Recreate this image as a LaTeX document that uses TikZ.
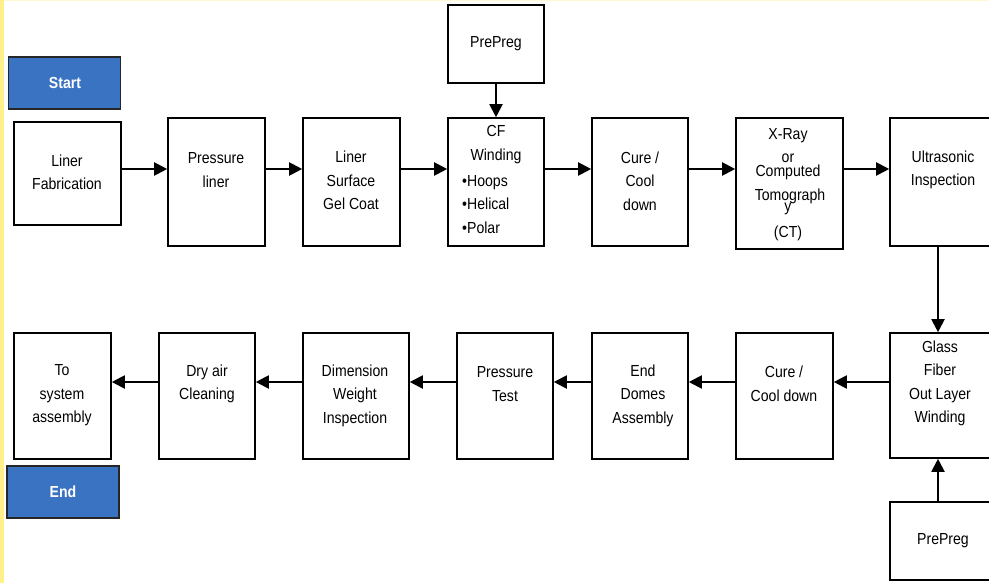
\documentclass[tikz,border=0pt]{standalone}
\usepackage{fontspec}
\setmainfont{Liberation Sans}[FakeStretch=0.88]
\usetikzlibrary{arrows.meta}
\definecolor{stblue}{HTML}{3B73C3}
\definecolor{ystrip}{HTML}{FFF08A}
\definecolor{ytop}{HTML}{FFF8D0}
\begin{document}
\begin{tikzpicture}[x=1pt,y=-1pt,
  box/.style={draw=black,line width=1.6pt,fill=white,rectangle,inner sep=0pt},
  term/.style={draw=black!85,line width=1.8pt,fill=stblue,rectangle,inner sep=0pt,
     minimum width=112pt,minimum height=52pt},
  txt/.style={align=center,inner sep=0pt,font=\fontsize{16}{23.5}\selectfont},
  ttxt/.style={inner sep=0pt,text=white,font=\fontsize{16}{18}\selectfont\bfseries},
  arr/.style={line width=2pt,-{Triangle[length=13pt,width=13pt]}}]
\useasboundingbox (0,0) rectangle (989,583);
\fill[white] (0,0) rectangle (989,583);
\fill[ytop] (0,0) rectangle (989,1.5);
\fill[ystrip] (0,0) rectangle (4,583);
% boxes
\node[term] (start) at (64.5,83) {};
\node[box,minimum width=107pt,minimum height=103pt] (lf) at (67.5,173.5) {};
\node[box,minimum width=97pt,minimum height=128pt] (pl) at (216.5,182) {};
\node[box,minimum width=97pt,minimum height=128pt] (gc) at (351.5,182) {};
\node[box,minimum width=96pt,minimum height=78pt] (pp1) at (496,44) {};
\node[box,minimum width=96pt,minimum height=128pt] (cf) at (496,182) {};
\node[box,minimum width=96pt,minimum height=128pt] (cc1) at (640,182) {};
\node[box,minimum width=107pt,minimum height=131pt] (xr) at (789.5,183.5) {};
\node[box,minimum width=102pt,minimum height=128pt] (us) at (941,182) {};
\node[box,minimum width=102pt,minimum height=125pt] (gf) at (941,395.5) {};
\node[box,minimum width=102pt,minimum height=78pt] (pp2) at (941,541) {};
\node[box,minimum width=97pt,minimum height=126pt] (cc2) at (784.5,396) {};
\node[box,minimum width=96pt,minimum height=126pt] (ed) at (640,396) {};
\node[box,minimum width=96pt,minimum height=126pt] (pt) at (505,396) {};
\node[box,minimum width=106pt,minimum height=126pt] (dw) at (356,396) {};
\node[box,minimum width=96pt,minimum height=126pt] (da) at (207,396) {};
\node[box,minimum width=97pt,minimum height=126pt] (ts) at (62.5,396) {};
\node[term] (end) at (63,492) {};
% texts
\node[ttxt] (tstart) at (65,83) {Start};
\node[ttxt] (tend) at (63,492) {End};
\node[txt] (tlf) at (67,172.5) {Liner\\Fabrication};
\node[txt] (tpl) at (216,170) {Pressure\\liner};
\node[txt] (tgc) at (351,180.5) {Liner\\Surface\\Gel Coat};
\node[txt] (tpp1) at (496,44) {PrePreg};
\node[txt] (tcf) at (496,144.5) {CF\\Winding};
\node[txt,align=left,anchor=west] (tcfl) at (462,204.5) {•Hoops\\•Helical\\•Polar};
\node[txt] (tcc1) at (640,181) {Cure /\\Cool\\down};
\node[txt] (tx1) at (788,136) {X-Ray};
\node[txt] (tx2) at (788,158) {or};
\node[txt] (tx3) at (788,172) {Computed};
\node[txt] (tx4) at (790,196) {Tomograph};
\node[txt] (tx5) at (788,209) {y};
\node[txt] (tx6) at (788,233) {(CT)};
\node[txt] (tus) at (943,170) {Ultrasonic\\Inspection};
\node[txt] (tgf) at (940,383.5) {Glass\\Fiber\\Out Layer\\Winding};
\node[txt] (tpp2) at (943,541) {PrePreg};
\node[txt] (tcc2) at (784,384) {Cure /\\Cool down};
\node[txt] (ted) at (643,395.5) {End\\Domes\\Assembly};
\node[txt] (tpt) at (505,384) {Pressure\\Test};
\node[txt] (tdw) at (355,395.5) {Dimension\\Weight\\Inspection};
\node[txt] (tda) at (207,384) {Dry air\\Cleaning};
\node[txt] (tts) at (62,395.5) {To\\system\\assembly};
% arrows
\draw[arr] ([yshift=4.5pt]lf.east) -- ([yshift=13pt]pl.west);
\draw[arr] ([yshift=13pt]pl.east) -- ([yshift=13pt]gc.west);
\draw[arr] ([yshift=13pt]gc.east) -- ([yshift=13pt]cf.west);
\draw[arr] ([yshift=13pt]cf.east) -- ([yshift=13pt]cc1.west);
\draw[arr] ([yshift=13pt]cc1.east) -- ([yshift=14.5pt]xr.west);
\draw[arr] ([yshift=14.5pt]xr.east) -- ([yshift=13pt]us.west);
\draw[arr] (pp1.south) -- (cf.north);
\draw[arr] ([xshift=-3pt]us.south) -- ([xshift=-3pt]gf.north);
\draw[arr] ([xshift=-3pt]pp2.north) -- ([xshift=-3pt]gf.south);
\draw[arr] ([yshift=13.5pt]gf.west) -- ([yshift=14pt]cc2.east);
\draw[arr] ([yshift=14pt]cc2.west) -- ([yshift=14pt]ed.east);
\draw[arr] ([yshift=14pt]ed.west) -- ([yshift=14pt]pt.east);
\draw[arr] ([yshift=14pt]pt.west) -- ([yshift=14pt]dw.east);
\draw[arr] ([yshift=14pt]dw.west) -- ([yshift=14pt]da.east);
\draw[arr] ([yshift=14pt]da.west) -- ([yshift=14pt]ts.east);
\end{tikzpicture}
\end{document}
